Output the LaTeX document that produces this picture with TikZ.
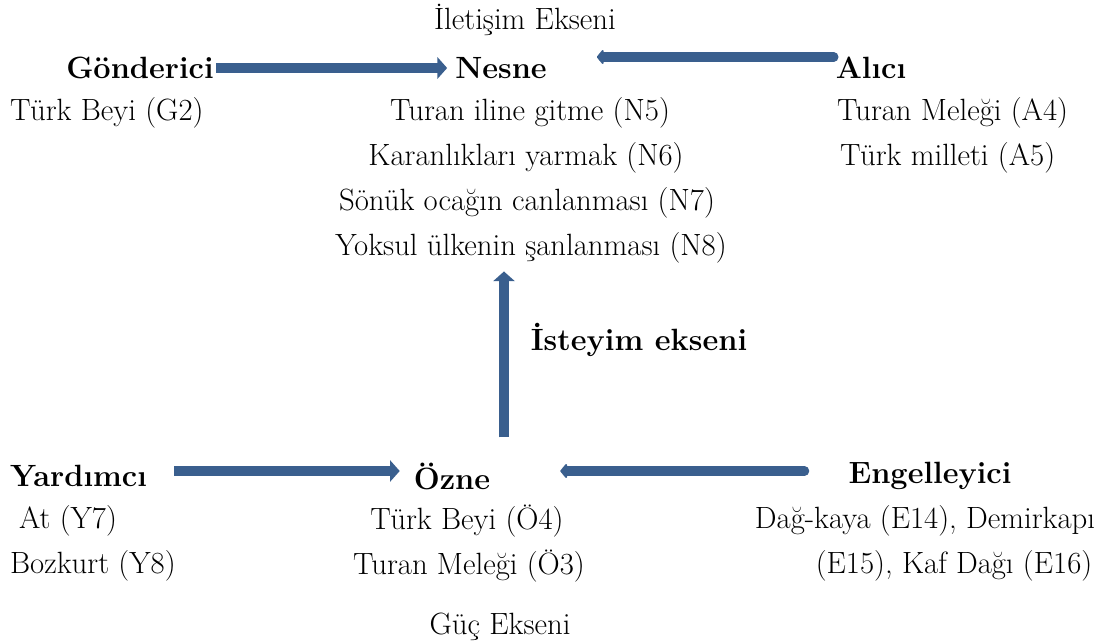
\documentclass[tikz,border=0pt]{standalone}
\usepackage{fontspec}
\usetikzlibrary{arrows.meta}

\definecolor{axisblue}{RGB}{58,95,142}
\tikzset{
  lbl/.style={font=\fontsize{17.5}{21}\selectfont,inner sep=1pt},
  role/.style={font=\fontsize{17.5}{21}\selectfont\bfseries,inner sep=1pt},
  fwd/.style={axisblue,line width=5.5pt,-{Triangle[width=12pt,length=5.5pt]}},
  back/.style={axisblue,line width=5.5pt,line cap=round,-{Triangle[round,width=9.5pt,length=4pt]}},
}

\begin{document}
\begin{tikzpicture}[x=0.02cm,y=-0.02cm]
  \useasboundingbox (0,0) rectangle (1109,643);

  % upper row
  \node[lbl] (ilet) at (525,20) {İletişim Ekseni};
  \node[role] (gon) at (140,68) {Gönderici};
  \node[role] (nes) at (501,68) {Nesne};
  \node[role] (ali) at (871,68) {Alıcı};
  \node[lbl,anchor=west] (g2) at (8,113) {Türk Beyi (G2)};
  \node[lbl] (n5) at (530,113) {Turan iline gitme (N5)};
  \node[lbl] (n6) at (526,158) {Karanlıkları yarmak (N6)};
  \node[lbl] (n7) at (527,203) {Sönük ocağın canlanması (N7)};
  \node[lbl] (n8) at (531,248) {Yoksul ülkenin şanlanması (N8)};
  \node[lbl,anchor=west] (a4) at (835,113) {Turan Meleği (A4)};
  \node[lbl,anchor=west] (a5) at (838,158) {Türk milleti (A5)};

  \node[role] (ist) at (639,340) {İsteyim ekseni};

  % lower row
  \node[role,anchor=west] (yar) at (8,476) {Yardımcı};
  \node[role] (ozn) at (452,476) {Özne};
  \node[role] (eng) at (930,476) {Engelleyici};
  \node[lbl,anchor=west] (y7) at (17,521) {At (Y7)};
  \node[lbl,anchor=west] (y8) at (8,566) {Bozkurt (Y8)};
  \node[lbl] (o4) at (467,521) {Türk Beyi (Ö4)};
  \node[lbl] (o3) at (469,566) {Turan Meleği (Ö3)};
  \node[lbl] (e14) at (925,521) {Dağ-kaya (E14), Demirkapı};
  \node[lbl] (e15) at (954,566) {(E15), Kaf Dağı (E16)};
  \node[lbl] (guc) at (500,627) {Güç Ekseni};

  % axes
  \draw[fwd,shorten >=0.12cm] (gon.east) -- (nes.west);
  \draw[back,shorten >=0.96cm] ([yshift=0.22cm]ali.west) -- ([yshift=0.22cm]nes.east);
  \draw[fwd,shorten <=0.5cm,shorten >=0.24cm] ([yshift=0.1cm]yar.east) -- ([yshift=0.1cm]ozn.west);
  \draw[back,shorten <=0.84cm,shorten >=1.36cm] ([yshift=0.1cm]eng.west) -- ([yshift=0.1cm]ozn.east);
  \draw[fwd,shorten <=0.46cm,shorten >=0.12cm] ([xshift=1.04cm]ozn.north) -- ([xshift=1.04cm]ozn.north |- n8.south);
\end{tikzpicture}
\end{document}
